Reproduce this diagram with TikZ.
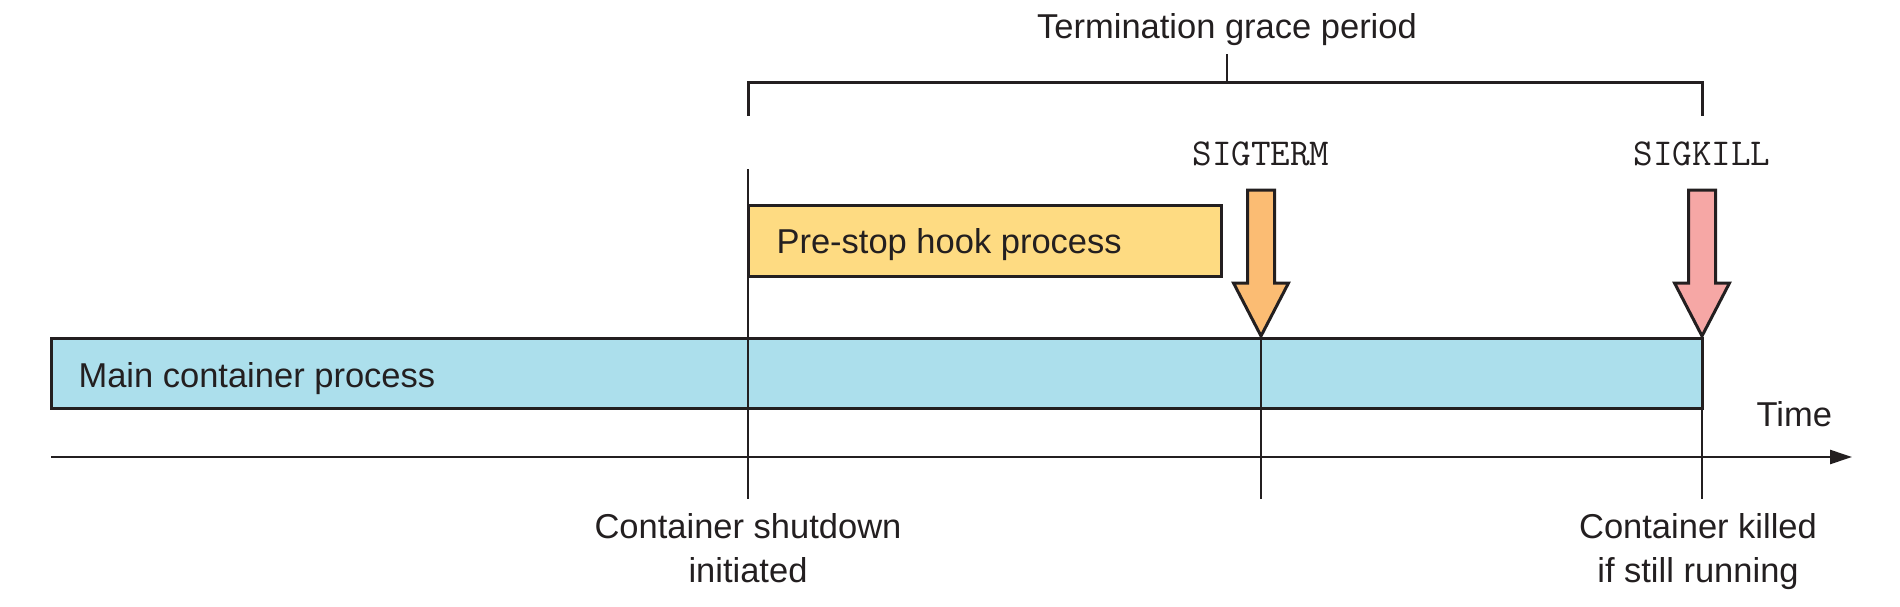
\documentclass[tikz,border=0pt]{standalone}
\usepackage{fontspec}
\setmainfont{Liberation Sans}
\usetikzlibrary{calc,arrows.meta}

\definecolor{mainblue}{RGB}{172,223,236}
\definecolor{hookyellow}{RGB}{254,219,130}
\definecolor{termorange}{RGB}{251,188,115}
\definecolor{killpink}{RGB}{246,167,165}
\definecolor{inkgray}{RGB}{35,31,32}

\begin{document}
\begin{tikzpicture}[x=1pt, y=-1pt, draw=inkgray, text=inkgray,
	font=\fontsize{34.5}{44}\selectfont]

	\useasboundingbox (0,0) rectangle (1900,607);

	% ---- parameters

	\def\shafthalf{13.5}
	\def\headhalf{27.5}
	\def\arrowtop{190}
	\def\headbase{283}
	\def\tickend{499}

	% ---- coordinates

	\coordinate (M1) at (51,338);    % main process box
	\coordinate (M2) at (1702,408);
	\coordinate (H1) at (748,205);   % hook box
	\coordinate (H2) at (1221,276);
	\coordinate (T0) at (51,457);    % time axis
	\coordinate (T1) at (1852,457);
	\coordinate (S) at (748,169);    % shutdown
	\coordinate (G) at (1261,336);   % sigterm
	\coordinate (K) at (1702,336);   % sigkill
	\coordinate (B1) at (748,116);   % bracket
	\coordinate (B2) at (1702,116);
	\coordinate (BM) at (1227,83);

	% ---- boxes

	\draw[line width=3pt, fill=mainblue] (M1) rectangle (M2);
	\draw[line width=3pt, fill=hookyellow] (H1) rectangle (H2);

	% ---- time axis

	\draw[line width=2.5pt, -{Triangle[length=22pt, width=14pt]}] (T0) -- (T1);

	% ---- ticks

	\draw[line width=2pt] (S) -- (S |- 0,\tickend);
	\draw[line width=2pt] (G) -- (G |- 0,\tickend);
	\draw[line width=2pt] (K) -- (K |- 0,\tickend);

	% ---- signal arrows

	\foreach \x/\c in {1261/termorange, 1702/killpink} {
		\draw[line width=3pt, fill=\c]
			(\x-\shafthalf,\arrowtop) -- (\x+\shafthalf,\arrowtop)
			-- (\x+\shafthalf,\headbase) -- (\x+\headhalf,\headbase)
			-- (\x,336) -- (\x-\headhalf,\headbase)
			-- (\x-\shafthalf,\headbase) -- cycle;
	}

	% ---- bracket

	\draw[line width=3pt] (B1) -- (B1 |- BM) -- (B2 |- BM) -- (B2);
	\draw[line width=2pt] (BM) -- ++(0,-29);

	% ---- labels

	\node[anchor=base] (grace) at (1227,39) {Termination grace period};
	\node[anchor=base west] (mainlbl) at (75,387) {Main container process};
	\node[anchor=base west] (hooklbl) at (773,253) {Pre-stop hook process};
	\node[anchor=base west] (timelbl) at (1753,426) {Time};
	\node[anchor=base, font=\fontsize{38}{44}\ttfamily] (termlbl) at (1261,165) {SIGTERM};
	\node[anchor=base, font=\fontsize{38}{44}\ttfamily] (killlbl) at (1702,165) {SIGKILL};
	\node[anchor=base, align=center] (shutlbl) at (748,582) {Container shutdown\\initiated};
	\node[anchor=base, align=center] (deadlbl) at (1698,582) {Container killed\\if still running};

\end{tikzpicture}
\end{document}
